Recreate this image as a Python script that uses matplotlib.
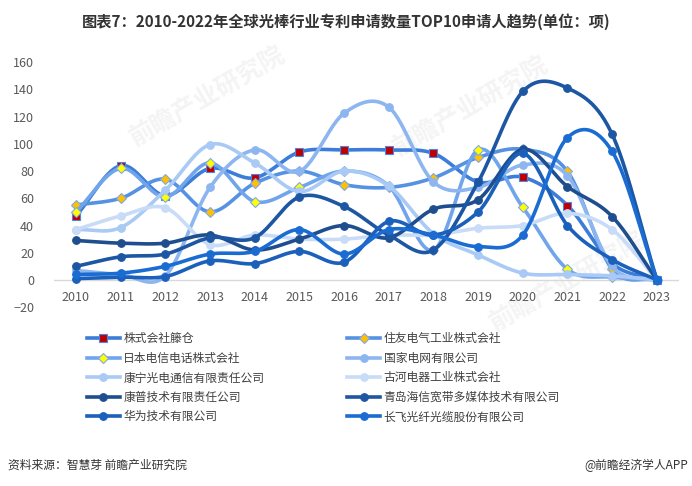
import numpy as np
import matplotlib
matplotlib.use("Agg")
import matplotlib.pyplot as plt

plt.rcParams['font.family'] = ['Noto Sans CJK SC', 'DejaVu Sans']

# ---------------- data ----------------
years = [2010, 2011, 2012, 2013, 2014, 2015, 2016, 2017, 2018, 2019, 2020, 2021, 2022, 2023]

fujikura   = [47, 84, 62, 82, 75, 94, 95.5, 95.5, 93, 72, 75.5, 54.7, 12, 0]
sumitomo   = [55, 60, 74, 50, 71, 80, 70, 68, 75, 90, 96, 79.7, 8, 0]
ntt        = [50, 82, 61, 86, 57.6, 68, 80, 69, 22, 95.6, 53.4, 7.8, 2, 0]
sgcc       = [7, 4, 3, 68, 95.6, 79.7, 122.5, 127, 72, 68, 84.5, 76.5, 10, 0]
corning    = [37, 38.5, 66, 99.5, 86, 65, 80, 69, 34, 18.4, 5, 4, 3, 0]
furukawa   = [37, 47, 53, 26, 33, 30, 30, 33, 33, 38, 40, 49, 37, 0]
commscope  = [29, 27, 27, 33, 22, 30, 40, 31, 52, 59, 96, 68.6, 46.6, 0]
hisense    = [10, 17, 19, 31, 31, 61, 54, 33, 22, 72, 138.5, 141, 107, 0]
huawei     = [1, 2, 2.5, 14, 12, 21, 13, 43, 33, 50, 93, 40, 15, 0]
yofc       = [4, 5, 10, 19, 21, 37, 19, 37, 33, 24.5, 33, 104.6, 94.4, 0]

names = ['株式会社籐仓', '住友电气工业株式会社', '日本电信电话株式会社', '国家电网有限公司',
         '康宁光电通信有限责任公司', '古河电器工业株式会社', '康普技术有限责任公司',
         '青岛海信宽带多媒体技术有限公司', '华为技术有限公司', '长飞光纤光缆股份有限公司']
series = [fujikura, sumitomo, ntt, sgcc, corning, furukawa, commscope, hisense, huawei, yofc]

line_colors = ['#3B7DD8', '#5592E3', '#70A5EC', '#8DB6F0', '#A9CAF5', '#C8DCF8',
               '#1F4E8F', '#1D56A3', '#1B60BA', '#1A6CD3']
marker_style = [('s', '#C00000', '#4A86E8', 6), ('D', '#FFC000', '#7FA8E8', 5),
                ('D', '#FFFF00', '#7FA8E8', 5)] + [('o', None, None, 5.5)] * 7


def smooth(x, y, n=30):
    # Excel-style smoothed line (Catmull-Rom through the points)
    x = np.asarray(x, float)
    y = np.asarray(y, float)
    px = np.concatenate([[2 * x[0] - x[1]], x, [2 * x[-1] - x[-2]]])
    py = np.concatenate([[2 * y[0] - y[1]], y, [2 * y[-1] - y[-2]]])
    xs, ys = [], []
    t = np.linspace(0, 1, n)
    for i in range(1, len(px) - 2):
        for p, out in ((px, xs), (py, ys)):
            p0, p1, p2, p3 = p[i - 1], p[i], p[i + 1], p[i + 2]
            out.append(0.5 * ((2 * p1) + (-p0 + p2) * t +
                              (2 * p0 - 5 * p1 + 4 * p2 - p3) * t ** 2 +
                              (-p0 + 3 * p1 - 3 * p2 + p3) * t ** 3))
    return np.concatenate(xs), np.concatenate(ys)


fig = plt.figure(figsize=(6.92, 4.86), dpi=100)

# faint watermarks, behind everything
for (wx, wy) in [(0.30, 0.80), (0.68, 0.78), (0.82, 0.42)]:
    fig.text(wx, wy, '前瞻产业研究院', fontsize=18, color='#F4F4F4', rotation=30,
             ha='center', va='center', fontweight='bold', zorder=-5)

ax = fig.add_axes([0.0775, 0.368, 0.904, 0.504])
ax.patch.set_alpha(0)

xi = np.arange(len(years))
handles = []
for k, (vals, col) in enumerate(zip(series, line_colors)):
    sx, sy = smooth(xi, vals)
    ax.plot(sx, sy, color=col, lw=2.6, solid_capstyle='round', zorder=2 + k)
    m, fc, ec, ms = marker_style[k]
    fc = fc or col
    ec = ec or col
    ax.plot(xi, vals, ls='none', marker=m, ms=ms, mfc=fc, mec=ec, mew=0.8, zorder=2 + k)
    h, = ax.plot([], [], color=col, lw=2.6, marker=m, ms=ms, mfc=fc, mec=ec, mew=0.8)
    handles.append(h)

ax.set_xlim(-0.5, len(years) - 0.5)
ax.set_ylim(-20, 160)
ax.set_yticks(range(-20, 161, 20))
ax.set_xticks(xi)
ax.set_xticklabels([str(y) for y in years])
ax.axhline(0, color='#D9D9D9', lw=1, zorder=1)
for s in ax.spines.values():
    s.set_visible(False)
ax.tick_params(length=0, labelsize=9, colors='#595959')
ax.tick_params(axis='y', pad=14)
for lab in ax.get_xticklabels():
    lab.set_y(0.085)

fig.text(0.5, 0.955, '图表7：2010-2022年全球光棒行业专利申请数量TOP10申请人趋势(单位：项)',
         ha='center', va='center', fontsize=11, fontweight='bold', color='#333333')

# legend fills row by row, two columns
order = [0, 2, 4, 6, 8, 1, 3, 5, 7, 9]
fig.legend([handles[i] for i in order], [names[i] for i in order],
           loc='upper left', bbox_to_anchor=(0.11, 0.338), ncol=2,
           frameon=False, fontsize=8.5, handlelength=2.8, handletextpad=0.3,
           columnspacing=7.0, labelspacing=0.55, labelcolor='#404040')

fig.text(0.012, 0.043, '资料来源：智慧芽 前瞻产业研究院', ha='left', va='center',
         fontsize=8.5, color='#333333')
fig.text(0.995, 0.043, '@前瞻经济学人APP', ha='right', va='center',
         fontsize=8.5, color='#333333')

fig.savefig('out.png', dpi=100)
